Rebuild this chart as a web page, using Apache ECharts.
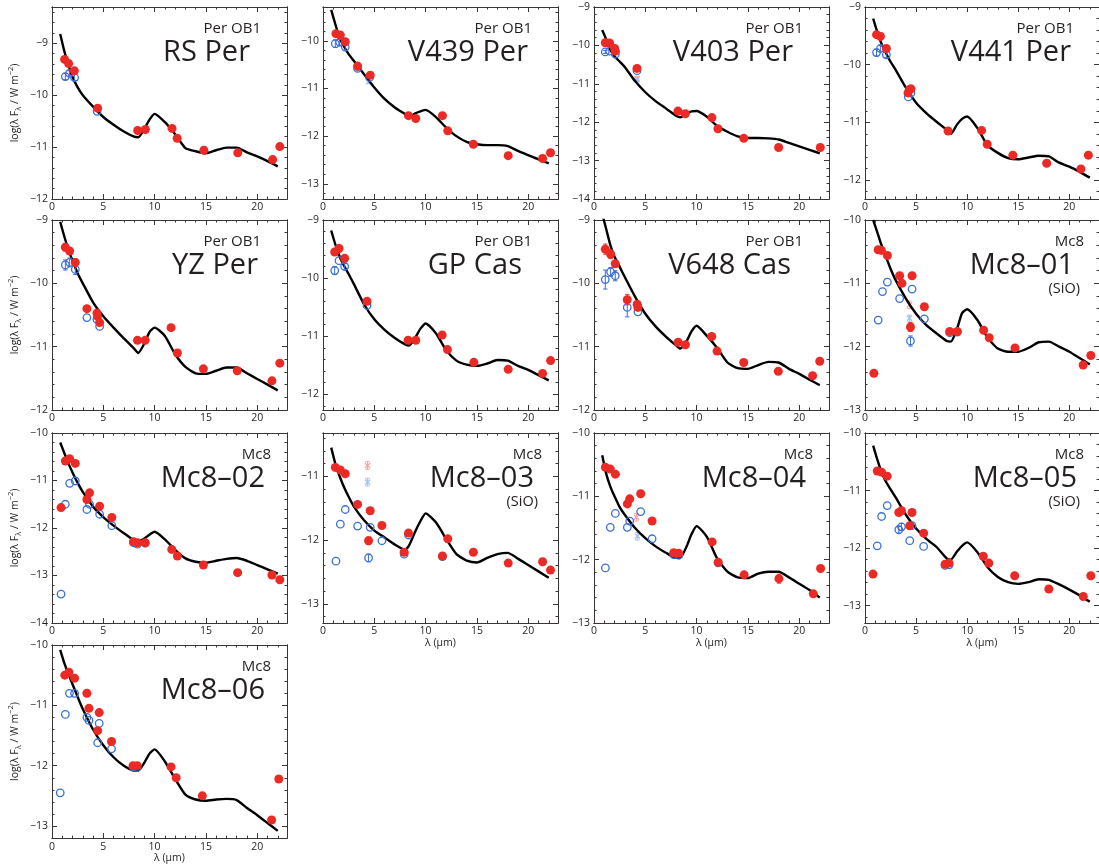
<!DOCTYPE html>
<html><head><meta charset="utf-8">
<script src="https://cdn.jsdelivr.net/npm/echarts@6/dist/echarts.min.js"></script>
<style>html,body{margin:0;padding:0;background:#fff}#c{width:1099px;height:865px}</style>
</head><body><div id="c"></div>
<script>
// ---------------- DATA ----------------
const X_MODEL = [0.8, 1.2, 1.6, 2, 2.5, 3, 4, 5, 6, 7, 8, 8.4, 9, 9.5, 10, 11, 12, 13, 14, 15, 16, 17, 18, 19, 20, 21, 22];
const X_MAJOR = [0, 5, 10, 15, 20];
const NAMES = ['RS Per','V439 Per','V403 Per','V441 Per','YZ Per','GP Cas','V648 Cas','Mc8–01','Mc8–02','Mc8–03','Mc8–04','Mc8–05','Mc8–06'];
const GROUPS = ['Per OB1','Per OB1','Per OB1','Per OB1','Per OB1','Per OB1','Per OB1','Mc8','Mc8','Mc8','Mc8','Mc8','Mc8'];
const SIO = [false,false,false,false,false,false,false,true,false,true,false,true,false];
const Y_RANGES = [[-12,-8.3],[-13.32,-9.29],[-14,-9],[-12.33,-9],[-12,-9],[-12.27,-9],[-12,-9],[-13,-10],[-14,-10],[-13.3,-10.32],[-13,-10],[-13.3,-10],[-13.2,-10]];

const RSPER_MODEL = [-8.82,-9.15,-9.42,-9.65,-9.85,-10.0,-10.22,-10.42,-10.57,-10.7,-10.8,-10.81,-10.65,-10.47,-10.36,-10.52,-10.75,-11.02,-11.08,-11.12,-11.06,-11.01,-11.01,-11.1,-11.18,-11.27,-11.37];
const RSPER_RED = [[1.23,-9.31],[1.62,-9.39,0.06],[2.18,-9.53],[4.45,-10.25],[8.35,-10.68],[9.1,-10.66],[11.7,-10.64],[12.2,-10.83],[14.8,-11.06],[18.1,-11.11],[21.5,-11.24],[22.2,-10.99]];
const RSPER_BLUE = [[1.3,-9.64,0.06],[1.7,-9.58,0.05],[2.2,-9.66,0.06],[4.4,-10.31]];

const V439_MODEL = [-9.35,-9.65,-9.93,-10.1,-10.28,-10.42,-10.7,-10.98,-11.22,-11.4,-11.54,-11.6,-11.52,-11.48,-11.45,-11.6,-11.82,-12.0,-12.12,-12.17,-12.19,-12.19,-12.21,-12.31,-12.4,-12.49,-12.57];
const V439_RED = [[1.26,-9.85],[1.69,-9.88,0.06],[2.17,-10.02,0.06],[3.37,-10.53],[4.6,-10.72],[8.33,-11.57],[9.04,-11.63],[11.64,-11.57],[12.16,-11.89],[14.65,-12.17],[18.05,-12.41],[21.4,-12.47],[22.17,-12.35]];
const V439_BLUE = [[1.2,-10.06,0.08],[1.62,-10.03,0.06],[2.17,-10.13,0.07],[3.37,-10.58,0.05],[4.54,-10.77]];
const V439_FADED_B = [[4.44,-10.86,0.04]];

const V403_MODEL = [-9.6,-9.85,-10.12,-10.28,-10.42,-10.56,-10.93,-11.22,-11.45,-11.64,-11.83,-11.87,-11.78,-11.72,-11.71,-11.86,-12.1,-12.25,-12.37,-12.41,-12.41,-12.42,-12.45,-12.54,-12.63,-12.72,-12.81];
const V403_RED = [[1.1,-9.93],[1.53,-9.94],[2.01,-10.08],[2.08,-10.15],[4.19,-10.6],[8.18,-11.71],[8.9,-11.78],[11.49,-11.88],[12.08,-12.17],[14.6,-12.42],[17.99,-12.66],[22.05,-12.66]];
const V403_BLUE = [[1.1,-10.17,0.04],[1.53,-10.15],[2.08,-10.23],[4.19,-10.66]];
const V403_FADED_R = [[4.19,-10.86,0.05]];
const V403_FADED_B = [[4.19,-10.9,0.04]];

const V441_MODEL = [-9.2,-9.43,-9.63,-9.78,-9.95,-10.09,-10.4,-10.66,-10.84,-10.99,-11.13,-11.2,-11.04,-10.94,-10.9,-11.1,-11.4,-11.53,-11.62,-11.64,-11.61,-11.58,-11.59,-11.7,-11.77,-11.86,-11.96];
const V441_RED = [[1.13,-9.48],[1.51,-9.51,0.06],[2.09,-9.72],[4.21,-10.49],[4.34,-10.43],[4.5,-10.42],[8.13,-11.15],[11.41,-11.14],[11.96,-11.38],[14.47,-11.57],[17.78,-11.71],[21.13,-11.81],[21.86,-11.57]];
const V441_BLUE = [[1.13,-9.79,0.06],[1.51,-9.72,0.05],[2.09,-9.83,0.05],[4.24,-10.56],[4.5,-10.49]];

const YZ_MODEL = [-9.03,-9.26,-9.47,-9.64,-9.84,-10.0,-10.3,-10.52,-10.7,-10.87,-11.03,-11.1,-10.95,-10.77,-10.7,-10.83,-11.12,-11.32,-11.42,-11.43,-11.38,-11.33,-11.33,-11.42,-11.51,-11.6,-11.69];
const YZ_RED = [[1.3,-9.43,0.06],[1.72,-9.49],[2.27,-9.67,0.06],[3.4,-10.4],[4.38,-10.47],[4.44,-10.52],[4.64,-10.62],[8.33,-10.9],[9.08,-10.9],[11.6,-10.7],[12.22,-11.1],[14.75,-11.35],[18.05,-11.38],[21.43,-11.54],[22.2,-11.26]];
const YZ_BLUE = [[1.3,-9.71,0.08],[1.72,-9.67,0.07],[2.27,-9.78,0.08],[3.4,-10.54],[4.38,-10.57],[4.64,-10.68]];

const GP_MODEL = [-9.18,-9.42,-9.62,-9.77,-9.93,-10.1,-10.45,-10.71,-10.89,-11.03,-11.14,-11.16,-11.02,-10.87,-10.78,-10.95,-11.24,-11.42,-11.49,-11.51,-11.47,-11.41,-11.42,-11.51,-11.58,-11.67,-11.76];
const GP_RED = [[1.14,-9.55,0.06],[1.56,-9.49,0.06],[2.11,-9.66,0.05],[4.29,-10.4],[8.29,-11.07],[9.04,-11.07],[11.61,-10.98],[12.13,-11.23],[14.7,-11.45],[18.05,-11.57],[21.4,-11.64],[22.18,-11.42]];
const GP_BLUE = [[1.14,-9.87,0.07],[1.56,-9.7],[2.11,-9.8,0.05],[4.29,-10.47]];

const V648_MODEL = [-8.9,-9.15,-9.4,-9.58,-9.74,-9.9,-10.21,-10.48,-10.68,-10.84,-10.98,-11.03,-10.92,-10.76,-10.67,-10.83,-11.02,-11.25,-11.34,-11.35,-11.29,-11.24,-11.25,-11.35,-11.43,-11.52,-11.61];
const V648_RED = [[1.1,-9.46,0.08],[1.62,-9.54,0.07],[2.07,-9.69],[3.24,-10.26,0.08],[4.21,-10.33],[4.28,-10.38],[8.2,-10.93],[8.91,-10.97],[11.47,-10.84],[11.99,-11.07],[14.59,-11.25],[17.96,-11.39],[21.3,-11.46],[22.0,-11.23]];
const V648_BLUE = [[1.1,-9.94,0.15],[1.62,-9.82,0.07],[2.07,-9.88,0.08],[3.24,-10.38,0.15],[4.28,-10.45]];

const MC801_MODEL = [-10.0,-10.19,-10.39,-10.56,-10.77,-10.95,-11.24,-11.48,-11.66,-11.79,-11.91,-11.92,-11.72,-11.47,-11.41,-11.58,-11.86,-12.03,-12.08,-12.08,-12.02,-11.93,-11.92,-12.0,-12.08,-12.18,-12.28];
const MC801_RED = [[0.87,-12.42],[1.29,-10.47],[1.61,-10.48],[2.19,-10.56],[3.39,-10.88],[3.61,-11.0,0.05],[4.45,-11.69,0.07],[4.61,-10.88],[5.81,-11.37],[8.29,-11.76],[9.03,-11.76],[11.61,-11.74],[12.16,-11.86],[14.68,-12.02],[21.35,-12.29],[22.1,-12.14]];
const MC801_BLUE = [[1.29,-11.58],[1.71,-11.13],[2.19,-10.98],[3.39,-11.24],[4.45,-11.91,0.08],[4.61,-11.09],[5.81,-11.56],[8.29,-11.78],[9.03,-11.77]];
const MC801_FADED_R = [[4.35,-11.34,0.06]];
const MC801_FADED_B = [[4.35,-11.55,0.05]];

const MC802_MODEL = [-10.2,-10.42,-10.64,-10.83,-11.05,-11.24,-11.55,-11.77,-11.95,-12.11,-12.26,-12.28,-12.22,-12.14,-12.08,-12.24,-12.46,-12.64,-12.71,-12.73,-12.69,-12.65,-12.63,-12.69,-12.78,-12.87,-12.96];
const MC802_RED = [[0.88,-11.57],[1.3,-10.59],[1.72,-10.54],[2.27,-10.64],[3.4,-11.4],[3.66,-11.26],[4.64,-11.54],[5.83,-11.78],[7.94,-12.29],[8.33,-12.31],[9.08,-12.31],[11.67,-12.45],[12.22,-12.59],[14.75,-12.78],[18.09,-12.94],[21.43,-12.99],[22.2,-13.09]];
const MC802_BLUE = [[0.88,-13.39],[1.3,-11.5],[1.72,-11.06],[2.27,-11.01],[3.4,-11.61],[3.66,-11.5],[4.64,-11.71],[5.83,-11.95],[7.94,-12.31],[8.33,-12.34],[9.08,-12.32]];

const MC803_MODEL = [-10.55,-10.8,-10.99,-11.15,-11.32,-11.47,-11.69,-11.85,-11.96,-12.07,-12.15,-12.08,-11.86,-11.7,-11.58,-11.72,-11.98,-12.22,-12.32,-12.35,-12.28,-12.22,-12.2,-12.29,-12.39,-12.49,-12.59];
const MC803_RED = [[1.2,-10.86],[1.69,-10.9],[2.17,-10.96],[3.37,-11.44],[4.6,-11.54],[4.44,-12.01,0.06],[5.74,-11.77],[7.91,-12.19],[8.33,-11.89],[11.64,-12.25],[12.16,-11.98],[14.65,-12.19],[18.05,-12.36],[21.4,-12.34],[22.17,-12.47]];
const MC803_BLUE = [[1.26,-12.33],[1.69,-11.75],[2.17,-11.52],[3.37,-11.78],[4.6,-11.8],[4.44,-12.28,0.06],[5.74,-12.01],[7.91,-12.22],[8.33,-11.92],[11.64,-12.26]];
const MC803_FADED_R = [[4.34,-10.83,0.06]];
const MC803_FADED_B = [[4.34,-11.09,0.06]];

const MC804_MODEL = [-10.35,-10.65,-10.85,-11.0,-11.17,-11.29,-11.5,-11.66,-11.79,-11.89,-11.97,-11.97,-11.8,-11.6,-11.47,-11.64,-11.98,-12.19,-12.28,-12.29,-12.22,-12.19,-12.19,-12.28,-12.38,-12.48,-12.6];
const MC804_RED = [[1.11,-10.54],[1.59,-10.57],[2.08,-10.65],[3.25,-11.12],[3.48,-11.04],[4.55,-10.96],[5.66,-11.39],[7.77,-11.89],[8.26,-11.9],[11.51,-11.72],[12.1,-12.04],[14.63,-12.24],[18.02,-12.3,0.07],[21.37,-12.54],[22.08,-12.14]];
const MC804_BLUE = [[1.11,-12.13],[1.59,-11.49],[2.08,-11.27],[3.25,-11.49],[3.48,-11.39],[4.55,-11.24],[5.66,-11.67],[7.77,-11.92],[8.26,-11.93],[12.1,-12.05]];
const MC804_FADED_R = [[4.13,-11.33,0.06]];
const MC804_FADED_B = [[4.23,-11.63,0.06]];

const MC805_MODEL = [-10.22,-10.46,-10.67,-10.83,-10.98,-11.12,-11.42,-11.66,-11.84,-11.98,-12.18,-12.2,-12.06,-11.96,-11.9,-12.07,-12.33,-12.5,-12.59,-12.62,-12.59,-12.54,-12.55,-12.63,-12.72,-12.82,-12.93];
const MC805_RED = [[0.78,-12.45],[1.2,-10.66],[1.62,-10.68],[2.17,-10.75],[3.31,-11.38],[3.57,-11.35],[4.38,-11.61],[4.6,-11.38],[5.74,-11.74],[7.84,-12.28],[8.23,-12.26],[11.57,-12.14],[12.12,-12.26],[14.65,-12.48],[17.99,-12.71],[21.36,-12.84],[22.1,-12.48]];
const MC805_BLUE = [[1.2,-11.96],[1.62,-11.45],[2.17,-11.26],[3.31,-11.68,0.06],[3.57,-11.63,0.06],[4.38,-11.87],[4.6,-11.61],[5.74,-11.97],[7.84,-12.3],[8.23,-12.29]];

const MC806_MODEL = [-10.08,-10.3,-10.48,-10.65,-10.86,-11.06,-11.4,-11.66,-11.86,-12.0,-12.08,-12.08,-11.95,-11.8,-11.73,-11.93,-12.22,-12.48,-12.56,-12.58,-12.56,-12.55,-12.57,-12.7,-12.82,-12.95,-13.08];
const MC806_RED = [[1.25,-10.5],[1.65,-10.45],[2.2,-10.55],[3.4,-10.8],[3.6,-11.05],[4.45,-11.42],[4.6,-11.12],[5.8,-11.6],[7.9,-12.0],[8.3,-12.0],[11.6,-12.02],[12.1,-12.2],[14.65,-12.5],[21.4,-12.9],[22.1,-12.22]];
const MC806_BLUE = [[0.8,-12.45],[1.3,-11.15],[1.7,-10.8],[2.2,-10.8],[3.4,-11.2],[3.6,-11.25],[4.45,-11.62],[4.6,-11.3],[5.8,-11.72],[7.9,-12.02],[8.3,-12.03]];

const MODELS = [RSPER_MODEL,V439_MODEL,V403_MODEL,V441_MODEL,YZ_MODEL,GP_MODEL,V648_MODEL,MC801_MODEL,MC802_MODEL,MC803_MODEL,MC804_MODEL,MC805_MODEL,MC806_MODEL];
const REDS = [RSPER_RED,V439_RED,V403_RED,V441_RED,YZ_RED,GP_RED,V648_RED,MC801_RED,MC802_RED,MC803_RED,MC804_RED,MC805_RED,MC806_RED];
const BLUES = [RSPER_BLUE,V439_BLUE,V403_BLUE,V441_BLUE,YZ_BLUE,GP_BLUE,V648_BLUE,MC801_BLUE,MC802_BLUE,MC803_BLUE,MC804_BLUE,MC805_BLUE,MC806_BLUE];
const FADED_R = [[],[],V403_FADED_R,[],[],[],[],MC801_FADED_R,[],MC803_FADED_R,MC804_FADED_R,[],[]];
const FADED_B = [[],V439_FADED_B,V403_FADED_B,[],[],[],[],MC801_FADED_B,[],MC803_FADED_B,MC804_FADED_B,[],[]];

// ---------------- LAYOUT / STYLE ----------------
const COL_L = [52, 323, 594, 865];
const ROW_T = [7, 220, 433, 645];
const ROW_H = [192, 190, 190, 198];
const PW = 235;
const X_MAX = 22.9;
const NAME_RIGHT = [37,30,36,29,29,36,38,26,22,24,23,23,22];
const AX = '#3a3535';
const TXT = '#231f20';
const RED = '#ec2a25';
const BLUE = '#3b6fd6';
const FONT = "'Open Sans', 'DejaVu Sans', sans-serif";

const fmt = v => (v < 0 ? '\u2212' : '') + Math.abs(v);

function yTickSets(lo, hi) {
  const maj = [], mn = [];
  for (let k = Math.ceil(lo * 5 - 1e-6); k <= Math.floor(hi * 5 + 1e-6); k++) {
    const v = +(k / 5).toFixed(2);
    if (k % 5 === 0) maj.push(v); else mn.push(v);
  }
  return [maj, mn];
}
const X_MINOR = [];
for (let v = 1; v <= 22; v++) if (v % 5 !== 0) X_MINOR.push(v);

const grids = [], xAxes = [], yAxes = [], series = [], graphics = [];

function errRender(color, cross) {
  return function (params, api) {
    const x = api.value(0), y = api.value(1), e = api.value(2) || 0;
    const c = api.coord([x, y]);
    const t = api.coord([x, y + e]), b = api.coord([x, y - e]);
    const cw = 2.2;
    const st = { stroke: color, lineWidth: 1 };
    const ch = [];
    if (e > 0) {
      ch.push({ type: 'line', shape: { x1: t[0], y1: t[1], x2: b[0], y2: b[1] }, style: st });
      ch.push({ type: 'line', shape: { x1: t[0] - cw, y1: t[1], x2: t[0] + cw, y2: t[1] }, style: st });
      ch.push({ type: 'line', shape: { x1: b[0] - cw, y1: b[1], x2: b[0] + cw, y2: b[1] }, style: st });
    }
    if (cross) {
      const s = 2.6;
      ch.push({ type: 'line', shape: { x1: c[0] - s, y1: c[1] - s, x2: c[0] + s, y2: c[1] + s }, style: { stroke: color, lineWidth: 1.3 } });
      ch.push({ type: 'line', shape: { x1: c[0] - s, y1: c[1] + s, x2: c[0] + s, y2: c[1] - s }, style: { stroke: color, lineWidth: 1.3 } });
    }
    return { type: 'group', children: ch };
  };
}

NAMES.forEach((name, i) => {
  const row = Math.floor(i / 4), col = i % 4;
  const L = COL_L[col], T = ROW_T[row], H = ROW_H[row];
  grids.push({ left: L, top: T, width: PW, height: H });
  const [lo, hi] = Y_RANGES[i];
  const [yMaj, yMin] = yTickSets(lo, hi);
  const base = xAxes.length;
  const showXName = i >= 9;
  const showYName = col === 0;
  const line = { show: true, onZero: false, lineStyle: { color: AX, width: 1 } };
  const noLabel = { show: false };
  const mkX = (pos, vals, len, extra) => Object.assign({
    type: 'value', gridIndex: i, position: pos, min: 0, max: X_MAX,
    axisLine: line, splitLine: { show: false }, axisLabel: noLabel,
    axisTick: { show: true, inside: true, length: len, customValues: vals, lineStyle: { color: AX, width: 1 } }
  }, extra || {});
  const mkY = (pos, vals, len, extra) => Object.assign({
    type: 'value', gridIndex: i, position: pos, min: lo, max: hi,
    axisLine: line, splitLine: { show: false }, axisLabel: noLabel,
    axisTick: { show: true, inside: true, length: len, customValues: vals, lineStyle: { color: AX, width: 1 } }
  }, extra || {});
  xAxes.push(mkX('bottom', X_MAJOR, 5, {
    axisLabel: { show: true, customValues: X_MAJOR, margin: 3, fontSize: 10.5, color: TXT, fontFamily: FONT, formatter: fmt },
    name: showXName ? 'λ (μm)' : '', nameLocation: 'middle', nameGap: 13,
    nameTextStyle: { fontSize: 10.5, color: TXT, fontFamily: FONT, verticalAlign: 'top' }
  }));
  xAxes.push(mkX('bottom', X_MINOR, 2.5));
  xAxes.push(mkX('top', X_MAJOR, 5));
  xAxes.push(mkX('top', X_MINOR, 2.5));
  yAxes.push(mkY('left', yMaj, 5, {
    axisLabel: { show: true, customValues: yMaj, margin: 4, fontSize: 10.5, color: TXT, fontFamily: FONT, formatter: fmt },
    name: showYName ? '{a|log(λ F}{b|λ}{a| / W m}{c|−2}{a|)}' : '',
    nameLocation: 'middle', nameRotate: 90, nameGap: 29,
    nameTextStyle: {
      rich: {
        a: { fontSize: 10.5, color: TXT, fontFamily: FONT, lineHeight: 16, verticalAlign: 'middle' },
        b: { fontSize: 7.5, color: TXT, fontFamily: FONT, lineHeight: 8, verticalAlign: 'bottom' },
        c: { fontSize: 7.5, color: TXT, fontFamily: FONT, lineHeight: 8, verticalAlign: 'top' }
      }
    }
  }));
  yAxes.push(mkY('left', yMin, 2.5));
  yAxes.push(mkY('right', yMaj, 5));
  yAxes.push(mkY('right', yMin, 2.5));

  const ax = { xAxisIndex: base, yAxisIndex: base };
  series.push(Object.assign({
    type: 'line', data: X_MODEL.map((x, k) => [x, MODELS[i][k]]), showSymbol: false, smooth: 0.2,
    lineStyle: { color: '#000', width: 2.4 }, z: 2, silent: true
  }, ax));
  series.push(Object.assign({
    type: 'custom', data: FADED_R[i], renderItem: errRender('#f2a3a5', true), z: 1, silent: true
  }, ax));
  series.push(Object.assign({
    type: 'custom', data: FADED_B[i], renderItem: errRender('#a5c2ee', true), z: 1, silent: true
  }, ax));
  series.push(Object.assign({
    type: 'custom', data: BLUES[i].filter(p => p.length > 2), renderItem: errRender(BLUE, false), z: 3, silent: true
  }, ax));
  series.push(Object.assign({
    type: 'scatter', data: BLUES[i].map(p => [p[0], p[1]]), symbol: 'circle', symbolSize: 7.5,
    itemStyle: { color: 'rgba(255,255,255,0)', borderColor: BLUE, borderWidth: 1.3, opacity: 1 }, z: 3, silent: true
  }, ax));
  series.push(Object.assign({
    type: 'custom', data: REDS[i].filter(p => p.length > 2), renderItem: errRender(RED, false), z: 4, silent: true
  }, ax));
  series.push(Object.assign({
    type: 'scatter', data: REDS[i].map(p => [p[0], p[1]]), symbol: 'circle', symbolSize: 9,
    itemStyle: { color: RED, opacity: 1 }, z: 4, silent: true
  }, ax));

  const R = L + PW;
  const isMc = GROUPS[i] === 'Mc8';
  graphics.push({ type: 'text', x: R - (isMc ? 16 : 26), y: T + 21.5, z: 10,
    style: { text: GROUPS[i], fill: TXT, fontSize: 15, fontFamily: FONT, align: 'right', verticalAlign: 'middle' } });
  graphics.push({ type: 'text', x: R - NAME_RIGHT[i], y: T + 45.5, z: 10,
    style: { text: name, fill: TXT, fontSize: 29, fontFamily: FONT, align: 'right', verticalAlign: 'middle' } });
  if (SIO[i]) graphics.push({ type: 'text', x: R - 20, y: T + 69, z: 10,
    style: { text: '(SiO)', fill: TXT, fontSize: 14.5, fontFamily: FONT, align: 'right', verticalAlign: 'middle' } });
});

const chart = echarts.init(document.getElementById('c'), null, { renderer: 'canvas' });
chart.setOption({
  animation: false,
  backgroundColor: '#fff',
  textStyle: { fontFamily: FONT },
  grid: grids, xAxis: xAxes, yAxis: yAxes, series: series, graphic: graphics
});
</script></body></html>
